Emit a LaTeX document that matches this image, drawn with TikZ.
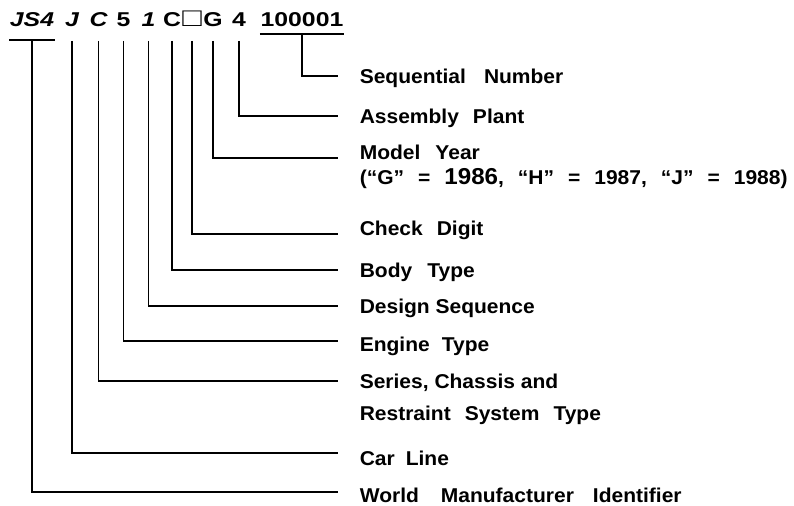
\documentclass[tikz,border=0pt]{standalone}
\usepackage{fontspec}
\setmainfont{Liberation Sans}
\newfontfamily\codefont{Liberation Sans}[FakeStretch=1.24]
\newfontfamily\labelfont{Liberation Sans}[FakeStretch=1.05]
\usetikzlibrary{positioning}
\newcommand{\gap}[1]{\hspace{#1bp}}

\begin{document}
\begin{tikzpicture}[%
        x=1bp, y=-1bp,
        line width=1.6bp,
        code/.style={anchor=base, inner sep=0pt, text depth=13bp,
            font=\codefont\bfseries\fontsize{20bp}{24bp}\selectfont},
        codeit/.style={code, font=\codefont\bfseries\itshape\fontsize{20bp}{24bp}\selectfont},
        lab/.style={anchor=west, inner xsep=21bp, inner ysep=0pt, text height=14.3bp, text depth=0pt,
            font=\labelfont\bfseries\fontsize{20bp}{23bp}\selectfont},
        sublab/.style={lab, inner xsep=0pt}
    ]
    \useasboundingbox (0,0) rectangle (794,506);

    % --- VIN characters ---
    \node[codeit, text depth=12bp] (wmi) at (32,27) {JS4};
    \node[codeit] (carline) at (72,27) {J};
    \node[codeit] (series) at (98.5,27) {C};
    \node[code] (engine) at (123.5,27) {5};
    \node[codeit] (design) at (148.5,27) {1};
    \node[code] (body) at (172,27) {C};
    \node[code, font=\codefont\fontsize{26bp}{28bp}\selectfont] (check) at (192,27) {□};
    \node[code] (year) at (213,27) {G};
    \node[code] (plant) at (239,27) {4};
    \node[code, text depth=6bp] (seqno) at (302,27) {100001};

    \draw (wmi.south west) -- (wmi.south east);
    \draw (seqno.south west) -- (seqno.south east);

    % --- Labels ---
    \node[lab] (lseq) at (338,76) {Sequential\gap{18}Number};
    \node[lab] (lplant) at (338,116) {Assembly\gap{14}Plant};
    \node[lab] (lyear) at (338,152) {Model\gap{15}Year};
    \node[sublab] (lyears) at (359,177) {\spaceskip=14bp (“G” = {\fontsize{23bp}{25bp}\selectfont 1986}, “H” = 1987, “J” = 1988)};
    \node[lab] (lcheck) at (338,228) {Check\gap{14}Digit};
    \node[lab] (lbody) at (338,270) {Body\gap{15}Type};
    \node[lab] (ldesign) at (338,306) {Design Sequence};
    \node[lab] (lengine) at (338,344) {Engine\gap{12}Type};
    \node[lab] (lseries) at (338,381) {Series, Chassis and};
    \node[sublab] (lrestraint) at (359,413) {Restraint\gap{14}System\gap{14}Type};
    \node[lab] (lcar) at (338,458) {Car\gap{11}Line};
    \node[lab] (lwmi) at (338,495) {World\gap{22}Manufacturer\gap{19}Identifier};

    % --- Leaders ---
    \draw (seqno.south) |- (lseq.west);
    \draw (plant.south) |- (lplant.west);
    \draw (year.south) |- ([yshift=-6bp]lyear.west);
    \draw (check.south) |- ([yshift=-6bp]lcheck.west);
    \draw (body.south) |- (lbody.west);
    \draw (design.south) |- (ldesign.west);
    \draw (engine.south) |- ([yshift=3bp]lengine.west);
    \draw (series.south) |- (lseries.west);
    \draw (carline.south) |- ([yshift=5bp]lcar.west);
    \draw (wmi.south) |- ([yshift=3bp]lwmi.west);
\end{tikzpicture}
\end{document}
